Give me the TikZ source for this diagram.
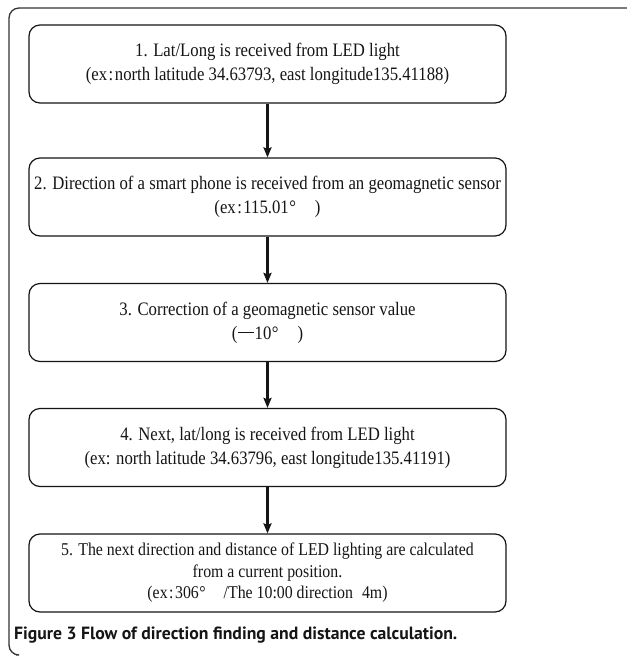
\documentclass[tikz,border=0pt]{standalone}
\usepackage{fontspec}
\setmainfont{Liberation Serif}[FakeStretch=0.88]
\newfontfamily\capfont{PT Sans}
\usetikzlibrary{arrows.meta}
\definecolor{ink}{HTML}{151515}
\definecolor{frame}{HTML}{333333}
\newcommand{\excolon}{ex\kern1.5pt:\kern1.5pt}
\newcommand{\fwminus}{\kern1pt\rule[0.3em]{0.8em}{0.06em}\kern1pt}
\newcommand{\degsign}{\kern0.5pt°}
\tikzset{
  stepbox/.style={draw=ink, line width=1.2pt, rounded corners=11pt, minimum width=477pt, minimum height=78pt, inner sep=0pt, align=center, text=ink, font=\fontsize{19}{24}\selectfont},
  flow/.style={draw=ink, line width=2.2pt, -{Stealth[length=10pt,width=8pt,inset=1.5pt]}},
}
\begin{document}
\begin{tikzpicture}[x=1pt,y=-1pt]
\useasboundingbox (0,0) rectangle (627,657);
\fill[white] (0,0) rectangle (627,657);
% outer frame (open at right and bottom)
\draw[frame, line width=1.3pt, rounded corners=10pt] (627,8) -- (9,8) -- (9,655) -- (16,655);
\node[stepbox] (s1) at (267.5,64) {1. Lat/Long is received from LED light\\(\excolon north latitude 34.63793, east longitude135.41188)};
\node[stepbox] (s2) at (267.5,197) {2. Direction of a smart phone is received from an geomagnetic sensor\\(\excolon 115.01\degsign\quad)};
\node[stepbox] (s3) at (267.5,322.5) {3. Correction of a geomagnetic sensor value\\(\fwminus 10\degsign\quad)};
\node[stepbox] (s4) at (267.5,447.5) {4. Next, lat/long is received from LED light\\(ex: north latitude 34.63796, east longitude135.41191)};
\node[stepbox, font=\fontsize{18}{21.5}\selectfont] (s5) at (267.5,573) {5. The next direction and distance of LED lighting are calculated\\from a current position.\\(\excolon 306\degsign\quad/The 10:00 direction\enspace 4m)};
\draw[flow] (s1) -- (s2);
\draw[flow] (s2) -- (s3);
\draw[flow] (s3) -- (s4);
\draw[flow] (s4) -- (s5);
\node[anchor=west, inner sep=0pt, text=ink, font=\capfont\bfseries\fontsize{17.7}{20}\selectfont] (cap) at (14,635) {Figure 3 Flow of direction finding and distance calculation.};
\end{tikzpicture}
\end{document}
